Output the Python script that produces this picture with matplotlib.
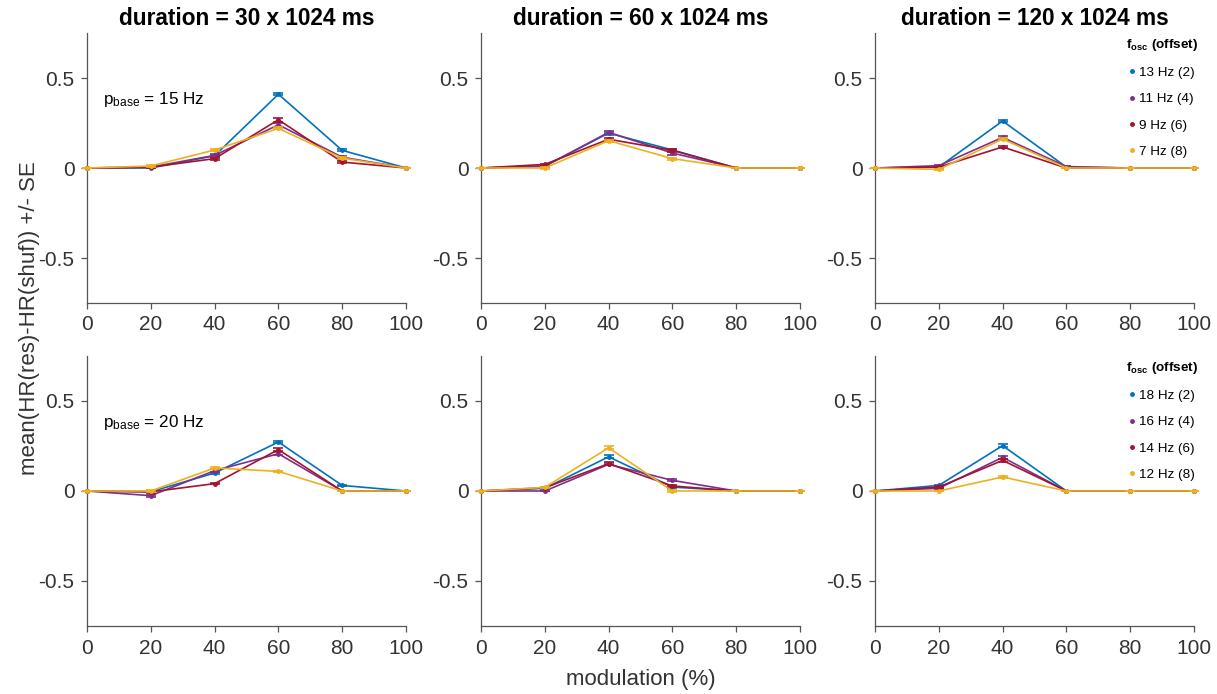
import matplotlib
matplotlib.use("Agg")
import matplotlib.pyplot as plt
from matplotlib.lines import Line2D
import numpy as np

plt.rcParams['font.family'] = ['Liberation Sans', 'DejaVu Sans']
plt.rcParams['mathtext.fontset'] = 'custom'
plt.rcParams['mathtext.rm'] = 'Liberation Sans'
plt.rcParams['mathtext.it'] = 'Liberation Sans:italic'
plt.rcParams['mathtext.bf'] = 'Liberation Sans:bold'
plt.rcParams['axes.unicode_minus'] = False

# modulation depth (%)
modulation = [0, 20, 40, 60, 80, 100]
durations = [30, 60, 120]
base_freqs = [15, 20]
osc_labels_15 = ['13 Hz (2)', '11 Hz (4)', '9 Hz (6)', '7 Hz (8)']
osc_labels_20 = ['18 Hz (2)', '16 Hz (4)', '14 Hz (6)', '12 Hz (8)']
colors = ['#0072BD', '#7E2F8E', '#A2142F', '#EDB120']

# mean HR(res)-HR(shuf), one row per offset (2, 4, 6, 8)
hr_15_30 = [[0, 0.000, 0.068, 0.410, 0.098, 0],
            [0, 0.005, 0.070, 0.240, 0.060, 0],
            [0, 0.005, 0.052, 0.268, 0.033, 0],
            [0, 0.011, 0.100, 0.220, 0.055, 0]]
hr_15_60 = [[0, 0.010, 0.194, 0.100, 0, 0],
            [0, 0.010, 0.198, 0.083, 0, 0],
            [0, 0.020, 0.160, 0.098, 0, 0],
            [0, 0.000, 0.152, 0.052, 0, 0]]
hr_15_120 = [[0, 0.005, 0.261, 0.005, 0, 0],
             [0, 0.013, 0.170, 0.008, 0, 0],
             [0, 0.005, 0.117, 0.000, 0, 0],
             [0, -0.008, 0.161, 0.000, 0, 0]]
hr_20_30 = [[0, -0.004, 0.100, 0.272, 0.031, 0],
            [0, -0.026, 0.113, 0.207, 0.000, 0],
            [0, -0.005, 0.041, 0.230, 0.000, 0],
            [0, 0.000, 0.128, 0.109, 0.000, 0]]
hr_20_60 = [[0, 0.015, 0.190, 0.022, 0, 0],
            [0, 0.000, 0.148, 0.059, 0, 0],
            [0, 0.018, 0.152, 0.028, 0, 0],
            [0, 0.020, 0.240, 0.000, 0, 0]]
hr_20_120 = [[0, 0.031, 0.252, 0, 0, 0],
             [0, 0.015, 0.187, 0, 0, 0],
             [0, 0.022, 0.170, 0, 0, 0],
             [0, 0.000, 0.078, 0, 0, 0]]

# standard errors
se_15_30 = [[0, 0.002, 0.005, 0.005, 0.005, 0],
            [0, 0.003, 0.006, 0.010, 0.006, 0],
            [0, 0.003, 0.005, 0.012, 0.005, 0],
            [0, 0.003, 0.006, 0.006, 0.004, 0]]
se_15_60 = [[0, 0.004, 0.008, 0.006, 0, 0],
            [0, 0.004, 0.009, 0.010, 0, 0],
            [0, 0.004, 0.007, 0.008, 0, 0],
            [0, 0.003, 0.006, 0.005, 0, 0]]
se_15_120 = [[0, 0.003, 0.006, 0.003, 0, 0],
             [0, 0.004, 0.007, 0.003, 0, 0],
             [0, 0.003, 0.005, 0.002, 0, 0],
             [0, 0.004, 0.006, 0.002, 0, 0]]
se_20_30 = [[0, 0.003, 0.006, 0.006, 0.004, 0],
            [0, 0.006, 0.008, 0.008, 0.002, 0],
            [0, 0.004, 0.004, 0.010, 0.002, 0],
            [0, 0.003, 0.008, 0.004, 0.002, 0]]
se_20_60 = [[0, 0.004, 0.008, 0.006, 0, 0],
            [0, 0.002, 0.006, 0.006, 0, 0],
            [0, 0.004, 0.008, 0.005, 0, 0],
            [0, 0.004, 0.008, 0.003, 0, 0]]
se_20_120 = [[0, 0.004, 0.007, 0, 0, 0],
             [0, 0.004, 0.010, 0, 0, 0],
             [0, 0.004, 0.008, 0, 0, 0],
             [0, 0.002, 0.005, 0, 0, 0]]

means = [[hr_15_30, hr_15_60, hr_15_120], [hr_20_30, hr_20_60, hr_20_120]]
errs = [[se_15_30, se_15_60, se_15_120], [se_20_30, se_20_60, se_20_120]]
osc_labels = [osc_labels_15, osc_labels_20]

W, H = 1217, 694
fig = plt.figure(figsize=(W / 100, H / 100), dpi=100)

col_left = [87, 481, 875]
row_top = [33, 356]
ax_w, ax_h = 319, 270
axc = '#555555'
txtc = '#333333'

for r in range(2):
    for c in range(3):
        ax = fig.add_axes([col_left[c] / W, 1 - (row_top[r] + ax_h) / H, ax_w / W, ax_h / H])
        for k in range(4):
            ax.errorbar(modulation, means[r][c][k], yerr=errs[r][c][k], color=colors[k],
                        lw=1.2, marker='.', ms=5, capsize=3.5, elinewidth=1.2,
                        capthick=1.2, clip_on=False, zorder=3 + k)
        ax.set_xlim(0, 100)
        ax.set_ylim(-0.75, 0.75)
        ax.set_xticks(modulation)
        ax.set_yticks([-0.5, 0, 0.5])
        ax.set_yticklabels(['-0.5', '0', '0.5'])
        for s in ['top', 'right']:
            ax.spines[s].set_visible(False)
        for s in ['left', 'bottom']:
            ax.spines[s].set_color(axc)
            ax.spines[s].set_linewidth(0.9)
        ax.tick_params(direction='out', length=4, width=0.9, color=axc,
                       labelsize=15, labelcolor=txtc, pad=5)
        if r == 0:
            ax.set_title('duration = %d x 1024 ms' % durations[c], fontsize=16.3,
                         fontweight='bold', pad=6)
        if c == 0:
            ax.text(5, 0.38, r'p$_{\mathrm{base}}$ = %d Hz' % base_freqs[r],
                    fontsize=12.3, va='center', ha='left')
        if c == 2:
            handles = [Line2D([], [], color=colors[k], marker='.', ms=5, lw=0)
                       for k in range(4)]
            leg = ax.legend(handles, osc_labels[r], loc='upper right',
                            bbox_to_anchor=(1.03, 1.005), frameon=False,
                            fontsize=9.7, handlelength=0.4, handletextpad=0.3,
                            labelspacing=1.02, borderaxespad=0,
                            title=r'f$_{\mathbf{osc}}$ (offset)',
                            title_fontproperties={'weight': 'bold', 'size': 9.7})

fig.text(641 / W, 1 - 680 / H, 'modulation (%)', fontsize=16, ha='center', va='center',
         color=txtc)
fig.text(30 / W, 1 - 318 / H, 'mean(HR(res)-HR(shuf)) +/- SE', fontsize=16,
         rotation=90, ha='center', va='center', color=txtc)

fig.savefig('out.png', dpi=100)
